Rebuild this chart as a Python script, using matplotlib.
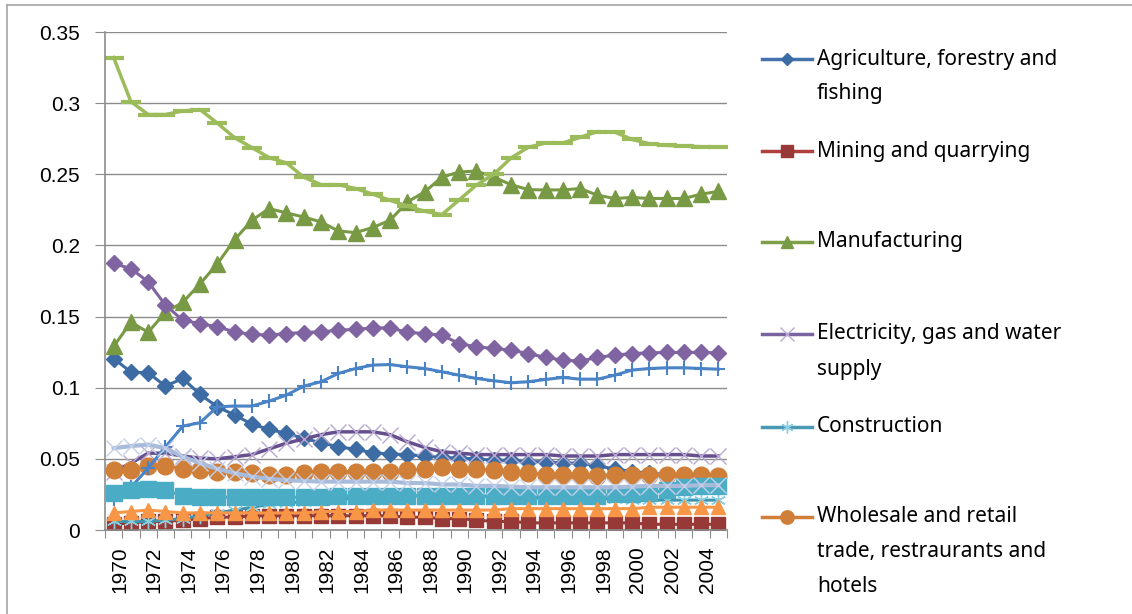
import matplotlib
matplotlib.use('Agg')
import matplotlib.pyplot as plt
from matplotlib.lines import Line2D
from matplotlib.transforms import ScaledTranslation
import numpy as np

# years on the category axis
years = list(range(1970, 2006))

# legend series
agriculture = [0.1205, 0.111, 0.1105, 0.1011, 0.1065, 0.0953, 0.0866, 0.0808, 0.0744, 0.0707,
               0.0679, 0.0644, 0.0613, 0.0585, 0.0567, 0.0543, 0.0534, 0.053, 0.052, 0.051,
               0.0505, 0.050, 0.049, 0.049, 0.048, 0.048, 0.047, 0.047, 0.045, 0.043,
               0.041, 0.040, 0.039, 0.038, 0.037, 0.036]
mining = [0.004, 0.005, 0.006, 0.006, 0.007, 0.008, 0.009, 0.009, 0.010, 0.010,
          0.010, 0.010, 0.010, 0.010, 0.010, 0.010, 0.010, 0.009, 0.009, 0.008,
          0.008, 0.007, 0.006, 0.006, 0.005, 0.005, 0.005, 0.005, 0.005, 0.005,
          0.005, 0.004, 0.004, 0.004, 0.004, 0.004]
manufacturing = [0.129, 0.146, 0.139, 0.153, 0.160, 0.173, 0.187, 0.204, 0.2177, 0.2259,
                 0.2228, 0.220, 0.2165, 0.2102, 0.209, 0.2126, 0.2177, 0.2305, 0.2376, 0.248,
                 0.2516, 0.2523, 0.248, 0.2427, 0.2392, 0.239, 0.239, 0.240, 0.2353, 0.233,
                 0.2337, 0.233, 0.233, 0.233, 0.236, 0.238]
electricity = [0.041, 0.047, 0.054, 0.054, 0.052, 0.0505, 0.050, 0.0515, 0.053, 0.057,
               0.061, 0.064, 0.067, 0.069, 0.069, 0.069, 0.067, 0.062, 0.058, 0.055,
               0.054, 0.053, 0.053, 0.053, 0.053, 0.053, 0.052, 0.052, 0.052, 0.053,
               0.053, 0.053, 0.053, 0.053, 0.052, 0.052]
construction = [0.006, 0.006, 0.006, 0.007, 0.008, 0.010, 0.012, 0.014, 0.016, 0.018,
                0.019, 0.020, 0.021, 0.022, 0.022, 0.023, 0.023, 0.024, 0.024, 0.024,
                0.024, 0.024, 0.023, 0.023, 0.023, 0.022, 0.022, 0.022, 0.022, 0.022,
                0.021, 0.021, 0.021, 0.021, 0.021, 0.021]
wholesale = [0.042, 0.042, 0.045, 0.045, 0.043, 0.042, 0.041, 0.041, 0.040, 0.039,
             0.039, 0.040, 0.041, 0.041, 0.041, 0.041, 0.041, 0.042, 0.043, 0.044,
             0.043, 0.043, 0.042, 0.041, 0.040, 0.039, 0.039, 0.039, 0.038, 0.039,
             0.039, 0.039, 0.039, 0.039, 0.039, 0.038]

# series that fell out of the (cut) legend
s7_blue = [0.022, 0.030, 0.0435, 0.0585, 0.073, 0.0754, 0.0866, 0.0871, 0.0871, 0.0906,
           0.0948, 0.1011, 0.1042, 0.110, 0.1135, 0.1159, 0.1163, 0.1147, 0.1135, 0.1112,
           0.1088, 0.1065, 0.1049, 0.1035, 0.1042, 0.1058, 0.1072, 0.106, 0.106, 0.1088,
           0.1124, 0.1135, 0.114, 0.114, 0.1135, 0.113]
s8_green = [0.332, 0.301, 0.292, 0.292, 0.2945, 0.2955, 0.286, 0.2757, 0.2688, 0.2617,
            0.258, 0.248, 0.2427, 0.2427, 0.240, 0.236, 0.2317, 0.2277, 0.224, 0.2217,
            0.232, 0.2425, 0.250, 0.2615, 0.269, 0.272, 0.272, 0.276, 0.280, 0.2797,
            0.2745, 0.2715, 0.2703, 0.2698, 0.2694, 0.269]
s9_purple = [0.1873, 0.1837, 0.1744, 0.158, 0.1475, 0.145, 0.1428, 0.1393, 0.1374, 0.137,
             0.1381, 0.1388, 0.1393, 0.1404, 0.141, 0.142, 0.142, 0.139, 0.138, 0.137,
             0.131, 0.1287, 0.1276, 0.1264, 0.124, 0.1213, 0.1194, 0.1187, 0.1213, 0.1229,
             0.124, 0.1245, 0.1248, 0.1248, 0.1248, 0.1245]
s10_teal = [0.026, 0.028, 0.029, 0.028, 0.024, 0.023, 0.023, 0.023, 0.023, 0.023,
            0.023, 0.023, 0.023, 0.024, 0.024, 0.024, 0.024, 0.024, 0.024, 0.024,
            0.024, 0.024, 0.024, 0.024, 0.024, 0.024, 0.024, 0.024, 0.024, 0.025,
            0.025, 0.026, 0.028, 0.030, 0.031, 0.031]
s11_orange = [0.012, 0.013, 0.014, 0.013, 0.012, 0.012, 0.012, 0.012, 0.012, 0.012,
              0.012, 0.012, 0.013, 0.013, 0.013, 0.014, 0.014, 0.014, 0.014, 0.014,
              0.014, 0.014, 0.014, 0.015, 0.015, 0.015, 0.015, 0.015, 0.015, 0.015,
              0.015, 0.016, 0.016, 0.016, 0.016, 0.016]
s12_lightblue = [0.0575, 0.059, 0.060, 0.0575, 0.0515, 0.047, 0.043, 0.040, 0.0375, 0.036,
                 0.035, 0.0345, 0.034, 0.034, 0.034, 0.034, 0.034, 0.033, 0.033, 0.032,
                 0.032, 0.031, 0.031, 0.0305, 0.030, 0.030, 0.030, 0.030, 0.030, 0.030,
                 0.0305, 0.031, 0.031, 0.031, 0.0315, 0.0315]

W, H = 1132, 614
fig = plt.figure(figsize=(W / 100, H / 100), dpi=100)
ax = fig.add_axes([105 / W, 1 - 530 / H, (727 - 105) / W, (530 - 32) / H])

x = np.arange(len(years))

# (values, line colour, marker, marker size, face colour, edge colour, edge width, line width)
series = [
    (agriculture, '#3D6BA3', 'D', 8, '#3D6BA3', '#3D6BA3', 1, 2.2),
    (mining, '#973A37', 's', 10, '#973A37', '#973A37', 1, 2.2),
    (manufacturing, '#799A44', '^', 11, '#799A44', '#799A44', 1, 2.2),
    (electricity, '#654F8F', 'x', 12, '#B8A9D0', '#B8A9D0', 1.0, 2.5),
    (construction, '#3E95AE', (6, 2, 0), 11, '#8ACFE0', '#8ACFE0', 1.0, 2.2),
    (wholesale, '#D07F38', 'o', 12, '#D07F38', '#D07F38', 1, 2.2),
    (s7_blue, '#4A84C6', '+', 10, '#4A84C6', '#4A84C6', 1.5, 2.2),
    (s8_green, '#9CBC5B', '_', 14, '#9CBC5B', '#9CBC5B', 3, 2.5),
    (s9_purple, '#8064A2', 'D', 8, '#8064A2', '#8064A2', 1, 2.2),
    (s10_teal, '#4BACC6', 's', 12, '#4BACC6', '#4BACC6', 1, 2.2),
    (s11_orange, '#F79646', '^', 10, '#F79646', '#F79646', 1, 2.2),
    (s12_lightblue, '#A8BBDB', 'x', 12, '#C4D0E8', '#C4D0E8', 1.0, 3),
]
for vals, lc, mk, ms, mfc, mec, mew, lw in series:
    ax.plot(x, vals, color=lc, lw=lw, marker=mk, ms=ms, mfc=mfc, mec=mec, mew=mew,
            solid_joinstyle='round')

ax.set_xlim(-0.5, len(years) - 0.5)
ax.set_ylim(0, 0.35)
yt = np.arange(0, 0.36, 0.05)
ax.set_yticks(yt)
ax.set_yticklabels(['0', '0.05', '0.1', '0.15', '0.2', '0.25', '0.3', '0.35'],
                   fontsize=15, family='Liberation Sans')
ax.yaxis.grid(True, color='#8C8C8C', lw=1)
ax.set_axisbelow(True)
ax.tick_params(axis='y', direction='out', length=7, color='#8C8C8C', pad=11)

# category boundaries as tick marks, year labels every second category
ax.set_xticks(np.arange(-0.5, len(years), 1))
ax.set_xticklabels([])
ax.tick_params(axis='x', which='major', direction='out', length=6, color='#8C8C8C')
ax.set_xticks(x[::2], minor=True)
ax.set_xticklabels([str(y) for y in years[::2]], minor=True, rotation=90,
                   fontsize=15, family='Liberation Sans')
ax.tick_params(axis='x', which='minor', length=0, pad=12)
off = ScaledTranslation(6 / 100, 0, fig.dpi_scale_trans)
for lab in ax.get_xticklabels(minor=True):
    lab.set_transform(lab.get_transform() + off)

for s in ['top', 'right']:
    ax.spines[s].set_visible(False)
for s in ['left', 'bottom']:
    ax.spines[s].set_color('#8C8C8C')
    ax.spines[s].set_linewidth(1.2)

# legend drawn by hand to match the spread-out layout
legend_items = [
    (0, ['Agriculture, forestry and', 'fishing'], 59),
    (1, ['Mining and quarrying'], 151),
    (2, ['Manufacturing'], 242),
    (3, ['Electricity, gas and water', 'supply'], 334),
    (4, ['Construction'], 427),
    (5, ['Wholesale and retail', 'trade, restraurants and', 'hotels'], 517),
]
legend_colors = ['#4472AA', '#B0403D', '#7E9E48', '#7B62A0', '#4A9AB5', '#D07F38']
for idx, lines, yc in legend_items:
    vals, lc, mk, ms, mfc, mec, mew, lw = series[idx]
    yf = 1 - yc / H
    fig.add_artist(Line2D([762 / W, 812 / W], [yf, yf], color=legend_colors[idx], lw=2.5,
                          transform=fig.transFigure))
    fig.add_artist(Line2D([787 / W], [yf], marker=mk, ms=ms * 0.8, mfc=mfc, mec=mec,
                          mew=mew, color=legend_colors[idx], transform=fig.transFigure))
    for k, t in enumerate(lines):
        fig.text(817 / W, 1 - (yc + 35 * k) / H, t, fontsize=15, family='Noto Sans',
                 va='center', ha='left')

# outer chart border (left and top edges are visible)
fig.add_artist(Line2D([7 / W, 7 / W], [0, 1 - 5 / H], color='#A6A6A6', lw=1.2,
                      transform=fig.transFigure))
fig.add_artist(Line2D([7 / W, 1], [1 - 5 / H, 1 - 5 / H], color='#A6A6A6', lw=1.2,
                      transform=fig.transFigure))

fig.savefig('out.png', dpi=100)
